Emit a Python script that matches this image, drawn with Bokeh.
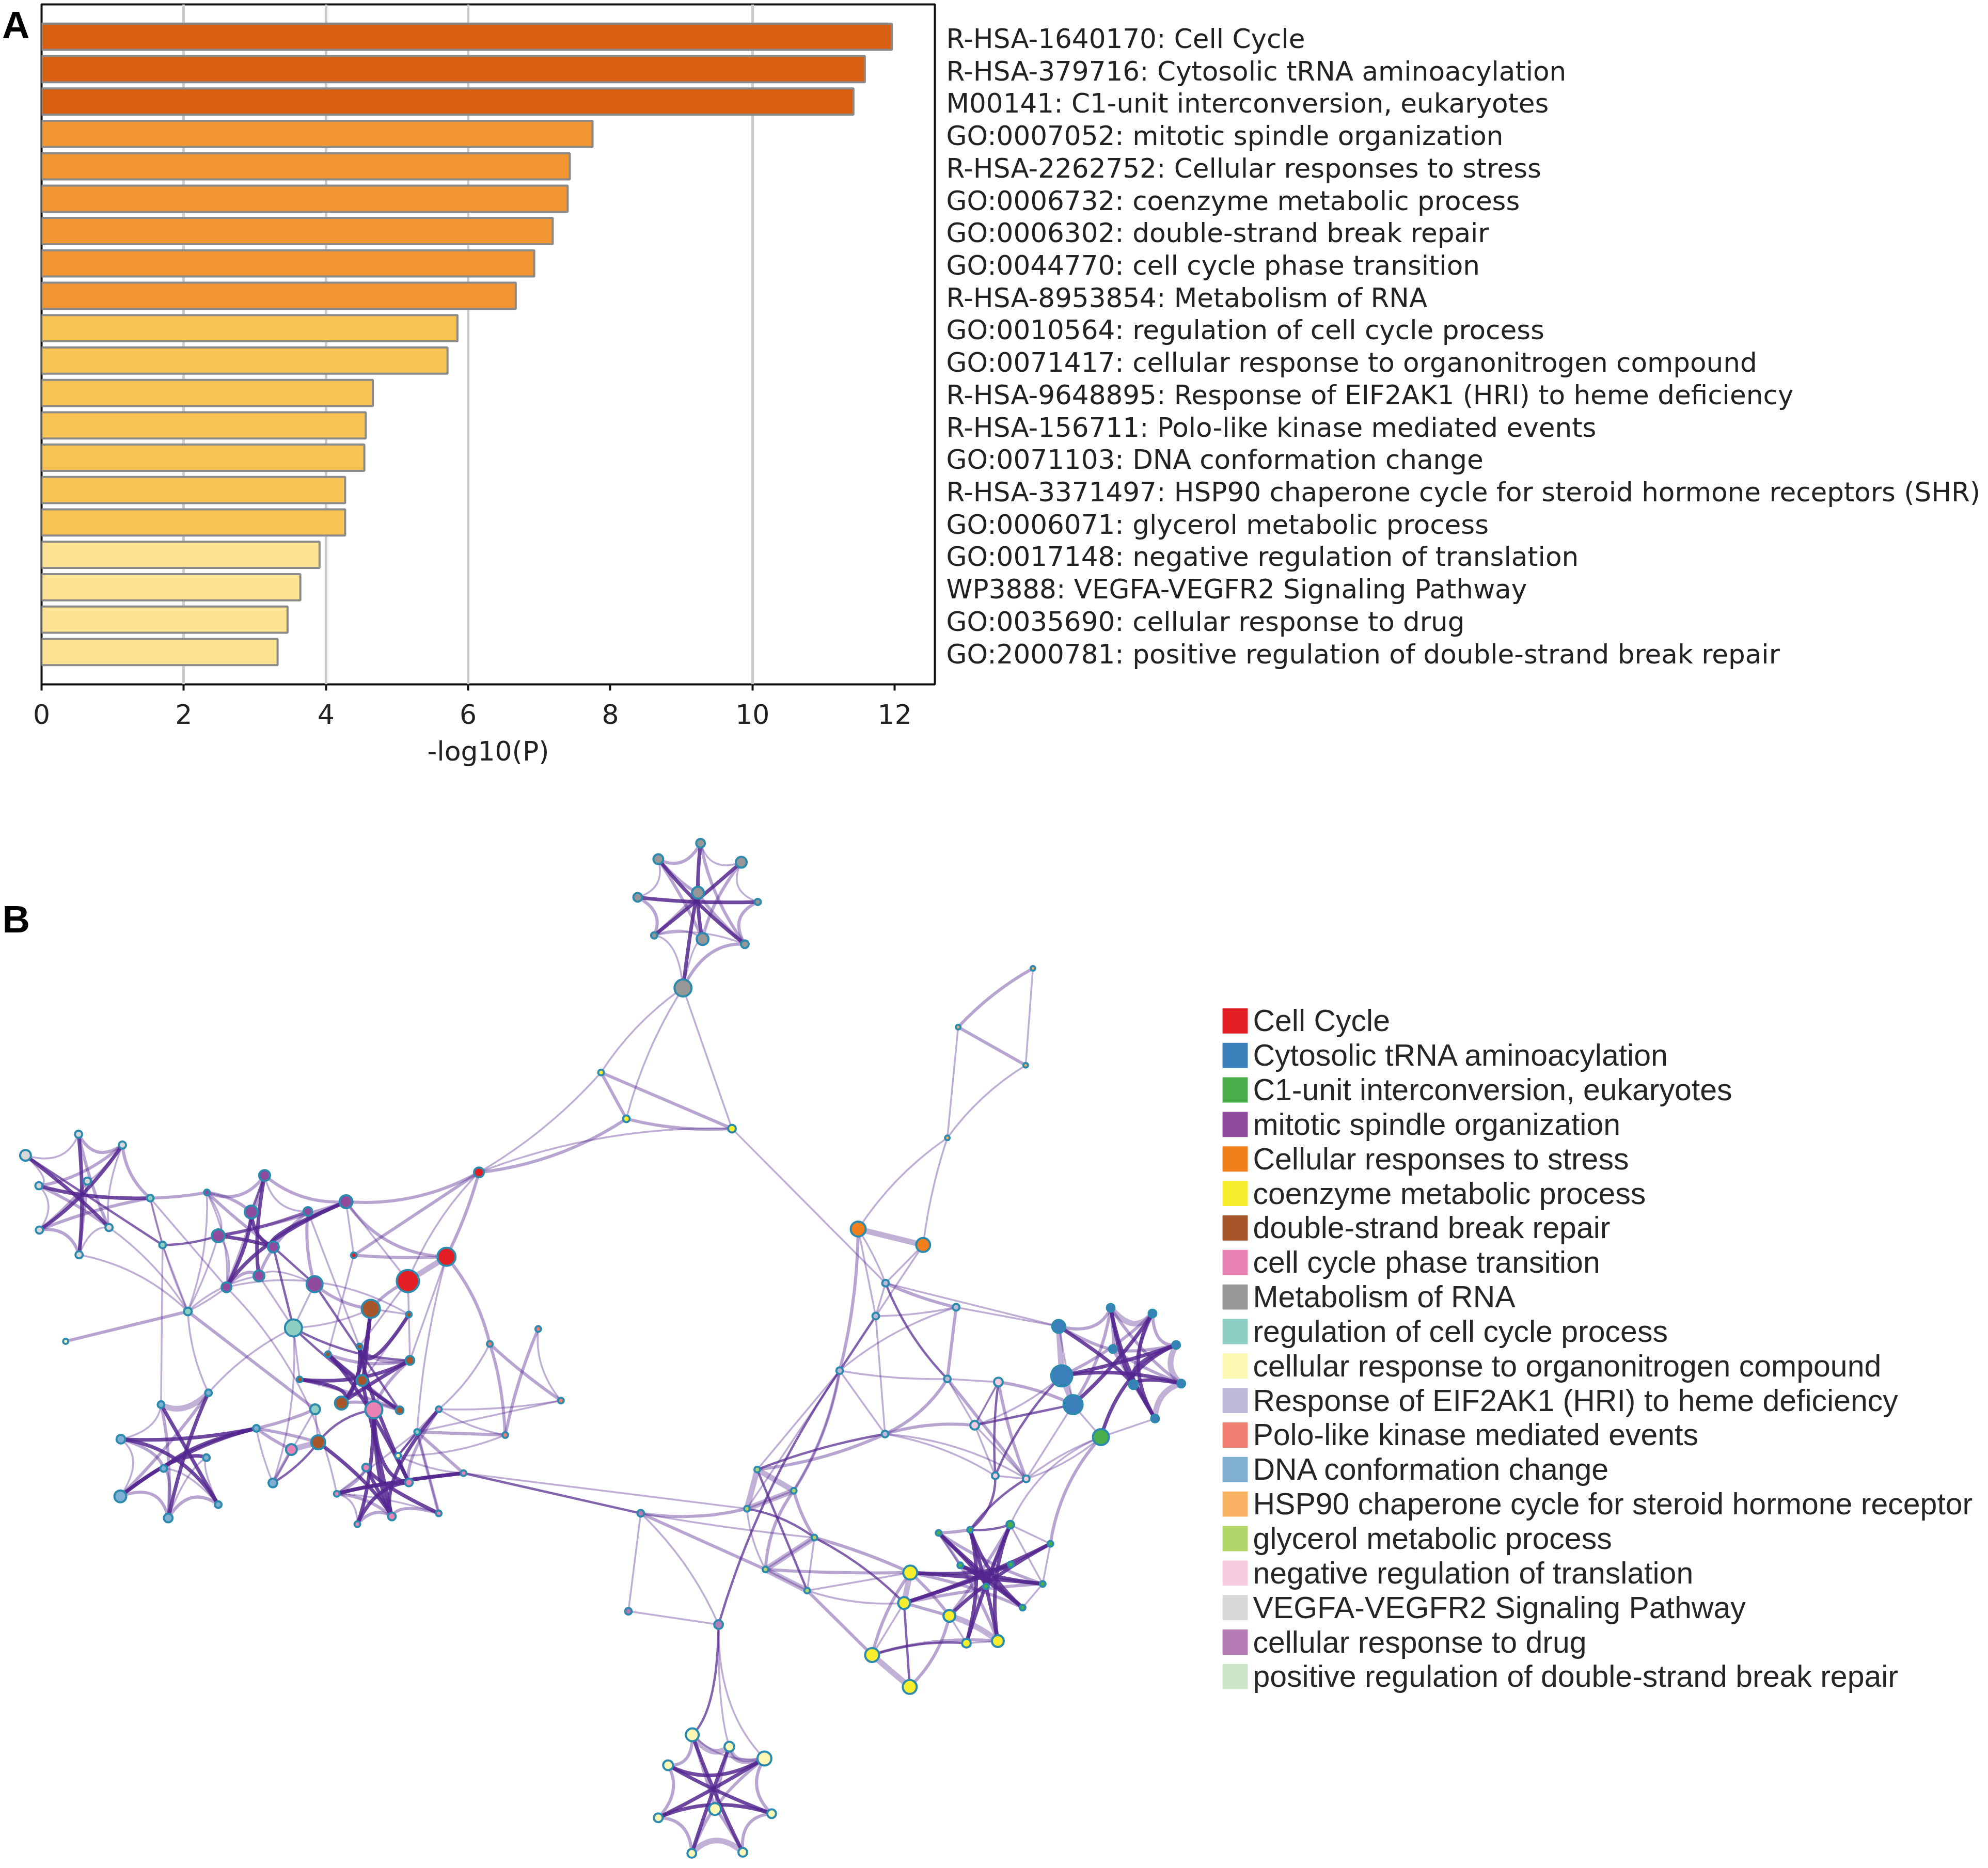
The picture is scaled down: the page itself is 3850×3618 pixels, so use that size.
from bokeh.plotting import figure
from bokeh.embed import file_html
from bokeh.resources import INLINE
from bokeh.models import Range1d, FixedTicker, LinearAxis
from bokeh.core.properties import value

# ---------- Panel A data ----------
terms = [
    "R-HSA-1640170: Cell Cycle",
    "R-HSA-379716: Cytosolic tRNA aminoacylation",
    "M00141: C1-unit interconversion, eukaryotes",
    "GO:0007052: mitotic spindle organization",
    "R-HSA-2262752: Cellular responses to stress",
    "GO:0006732: coenzyme metabolic process",
    "GO:0006302: double-strand break repair",
    "GO:0044770: cell cycle phase transition",
    "R-HSA-8953854: Metabolism of RNA",
    "GO:0010564: regulation of cell cycle process",
    "GO:0071417: cellular response to organonitrogen compound",
    "R-HSA-9648895: Response of EIF2AK1 (HRI) to heme deficiency",
    "R-HSA-156711: Polo-like kinase mediated events",
    "GO:0071103: DNA conformation change",
    "R-HSA-3371497: HSP90 chaperone cycle for steroid hormone receptors (SHR)",
    "GO:0006071: glycerol metabolic process",
    "GO:0017148: negative regulation of translation",
    "WP3888: VEGFA-VEGFR2 Signaling Pathway",
    "GO:0035690: cellular response to drug",
    "GO:2000781: positive regulation of double-strand break repair",
]
log_p = [11.96, 11.58, 11.42, 7.75, 7.43, 7.40, 7.19, 6.93, 6.67, 5.85,
         5.71, 4.66, 4.56, 4.54, 4.27, 4.27, 3.91, 3.64, 3.46, 3.32]
bar_colors = ["#D95F13"] * 3 + ["#F29533"] * 6 + ["#F9C454"] * 7 + ["#FDE291"] * 4
x_ticks = [0, 2, 4, 6, 8, 10, 12]
grid_ticks = [2, 4, 6, 10]
rank = list(range(len(terms)))

# ---------- Panel B data ----------
legend_names = [
    "Cell Cycle", "Cytosolic tRNA aminoacylation", "C1-unit interconversion, eukaryotes",
    "mitotic spindle organization", "Cellular responses to stress", "coenzyme metabolic process",
    "double-strand break repair", "cell cycle phase transition", "Metabolism of RNA",
    "regulation of cell cycle process", "cellular response to organonitrogen compound",
    "Response of EIF2AK1 (HRI) to heme deficiency", "Polo-like kinase mediated events",
    "DNA conformation change", "HSP90 chaperone cycle for steroid hormone receptor",
    "glycerol metabolic process", "negative regulation of translation",
    "VEGFA-VEGFR2 Signaling Pathway", "cellular response to drug",
    "positive regulation of double-strand break repair",
]
legend_colors = ["#E31E24", "#3A7FBA", "#4AAE4A", "#904A9E", "#F17F1C", "#F8EE2E", "#A6562A",
                 "#EA83B5", "#979797", "#8DCFC3", "#FDF7B4", "#BDB9DA", "#F07F72", "#7FB0D4",
                 "#F9B163", "#B2D56A", "#F6CBE0", "#D8D8D8", "#B57CB5", "#CBE6C8"]
legend_x = [2396.5] * 20
legend_y = [1981 + 67 * i for i in range(20)]

cluster_cat = dict(V=17, R=9, N=10, M=3, C=0, B=6, P=7, L=12, D=13, G=8, T=5, H=14, O=4,
                   I=11, E=16, A=1, X=2, Z=2, Q=5, K=15, U=18, W=10)
nodes = {
    "V0": (152, 2201, 17), "V1": (237, 2222, 17), "V2": (49, 2242, 24), "V3": (75, 2301, 17),
    "V4": (169, 2292, 17), "V5": (76, 2387, 17), "V6": (211, 2382, 17), "V7": (153, 2435, 17),
    "R0": (291, 2325, 16), "R1": (315, 2416, 16), "R2": (364, 2545, 18), "R3": (569, 2577, 36),
    "R4": (611, 2735, 22), "R5": (809, 2779, 14),
    "N0": (127, 2603, 13), "N1": (772, 2825, 14),
    "M0": (401, 2314, 14), "M1": (513, 2281, 24), "M2": (487, 2352, 28), "M3": (597, 2351, 20),
    "M4": (671, 2332, 28), "M5": (423, 2398, 28), "M6": (530, 2420, 24), "M7": (502, 2476, 24),
    "M8": (439, 2498, 22), "M9": (610, 2492, 34),
    "C0": (929, 2275, 22), "C1": (686, 2436, 14), "C2": (866, 2439, 38), "C3": (791, 2486, 46),
    "B0": (719, 2540, 38), "B1": (793, 2551, 14), "B2": (697, 2613, 14), "B3": (636, 2628, 14),
    "B4": (795, 2640, 20), "B5": (581, 2677, 14), "B6": (702, 2679, 24), "B7": (662, 2723, 28),
    "B8": (775, 2737, 18), "B9": (617, 2799, 30),
    "P0": (725, 2736, 36), "P1": (565, 2813, 24), "P2": (710, 2848, 18), "P3": (793, 2877, 18),
    "P4": (653, 2899, 14), "P5": (760, 2943, 18), "P6": (693, 2958, 14), "P7": (851, 2937, 14),
    "P8": (899, 2859, 14), "P9": (851, 2735, 14),
    "L0": (1044, 2579, 14), "L1": (950, 2608, 14), "L2": (1088, 2718, 14), "L3": (980, 2785, 14),
    "D0": (404, 2703, 16), "D1": (312, 2726, 16), "D2": (497, 2772, 16), "D3": (234, 2793, 20),
    "D4": (400, 2829, 16), "D5": (317, 2850, 16), "D6": (529, 2878, 20), "D7": (233, 2904, 26),
    "D8": (423, 2920, 16), "D9": (326, 2946, 20),
    "G0": (1359, 1636, 20), "G1": (1277, 1667, 22), "G2": (1438, 1673, 24), "G3": (1237, 1741, 20),
    "G4": (1354, 1732, 26), "G5": (1470, 1750, 15), "G6": (1269, 1815, 15), "G7": (1363, 1822, 26),
    "G8": (1445, 1832, 18), "G9": (1325, 1917, 36),
    "T0": (1166, 2081, 14), "T1": (1215, 2171, 16), "T2": (1420, 2190, 18),
    "H0": (2004, 1879, 12), "H1": (1859, 1993, 12), "H2": (1990, 2067, 12), "H3": (1838, 2208, 12),
    "O0": (1665, 2385, 32), "O1": (1791, 2416, 30),
    "I0": (1718, 2490, 16), "I1": (1699, 2554, 16), "I2": (1855, 2537, 16), "I3": (1629, 2660, 16),
    "I4": (1838, 2676, 16), "I5": (1717, 2783, 16),
    "E0": (1937, 2682, 20), "E1": (1891, 2766, 20), "E2": (1931, 2864, 16), "E3": (1991, 2870, 16),
    "A0": (2054, 2574, 28), "A1": (2060, 2670, 44), "A2": (2082, 2726, 40), "A3": (2155, 2538, 18),
    "A4": (2236, 2549, 18), "A5": (2159, 2618, 18), "A6": (2282, 2610, 18), "A7": (2292, 2685, 18),
    "A8": (2199, 2687, 20), "A9": (2241, 2753, 18),
    "X0": (2136, 2789, 34),
    "Z0": (1821, 2975, 14), "Z1": (1882, 2969, 14), "Z2": (1960, 2959, 18), "Z3": (2038, 2996, 14),
    "Z4": (1863, 3038, 14), "Z5": (1961, 3036, 14), "Z6": (2023, 3074, 14), "Z7": (1913, 3079, 14),
    "Z8": (1984, 3120, 14),
    "Q0": (1766, 3052, 30), "Q1": (1754, 3111, 26), "Q2": (1842, 3136, 26), "Q3": (1875, 3189, 20),
    "Q4": (1936, 3185, 26), "Q5": (1692, 3212, 30), "Q6": (1765, 3274, 30),
    "K0": (1469, 2852, 14), "K1": (1540, 2893, 14), "K2": (1449, 2928, 14), "K3": (1580, 2984, 14),
    "K4": (1485, 3046, 14), "K5": (1566, 3087, 14),
    "U0": (1243, 2937, 16), "U1": (1219, 3127, 16), "U2": (1394, 3153, 20),
    "W0": (1343, 3367, 28), "W1": (1415, 3390, 22), "W2": (1483, 3413, 30), "W3": (1296, 3426, 22),
    "W4": (1387, 3511, 26), "W5": (1497, 3520, 20), "W6": (1277, 3528, 20), "W7": (1342, 3597, 20),
    "W8": (1441, 3595, 20),
}

edge_groups = [
    (166, 2330, "V0-V7:3 V1-V5:3 V2-V6:3 V3-R0:3 V4-V7:2 V0-V6:2 V3-V6:2 V5-R0:2 V4-V5:2 V0-V1:2 V1-V4:1 V2-V0:1 V2-V3:1 V3-V5:1 V5-V7:2 V7-V6:1 V6-V1:1 V3-V1:2"),
    (489, 2406, "M1-M7:3 M5-M6:3 M2-M8:3 M4-M8:3 M2-M6:3 M3-M7:2 M0-M6:2 M5-M3:2 M1-M8:2 M4-M5:2 M3-M5:2 M5-M8:1 M0-M8:1 M0-M1:2 M0-M5:1 M1-M3:1 M7-M9:1 M7-M8:2 M6-M4:3"),
    (705, 2693, "B0-B7:3 B0-B6:3 B1-B2:3 B5-B4:3 B3-B8:3 B2-B7:3 B3-B6:2 B4-B7:3 B6-B8:2 B5-B8:2 B2-B4:2 B1-B6:1 B3-B4:2 B0-B2:3 B7-B8:2 B3-P3:3 B2-P3:3 B6-P5:3 B4-P0:2 B5-B7:3"),
    (725, 2878, "P0-P6:3 P2-P5:3 P3-P6:3 P4-P3:3 P8-P3:3 P2-P7:3 P9-P5:3 P4-P5:2 P6-P5:2 P7-P5:2 P4-P8:3 P4-P6:1 P2-P4:2 P0-P3:3 P9-P3:2 B9-P5:3 P0-P5:3 P4-P7:1"),
    (356, 2802, "D1-D8:3 D0-D9:3 D3-D2:3 D3-D8:3 D7-D4:3 D7-D0:2 D1-D9:2 D5-D3:2 D5-D8:1 D5-D2:3 D4-D9:1 D1-D0:4 D1-D3:1 D3-D7:1 D7-D9:2 D9-D8:2 D4-D8:1 D5-D9:2 D7-D2:3"),
    (1345, 1755, "G0-G7:3 G1-G8:3 G2-G6:3 G3-G5:3 G4-G9:3 G1-G7:2 G4-G8:2 G4-G6:2 G0-G8:2 G2-G7:2 G4-G1:2 G7-G6:1 G0-G1:2 G0-G2:1 G2-G5:1 G5-G8:2 G3-G6:2 G3-G1:1 G6-G8:1 G8-G9:2 G6-G9:1 G7-G9:1"),
    (2172, 2649, "A0-A8:3 A1-A6:3 A2-A4:3 A3-A9:3 A5-A7:2 A5-A9:2 X0-A6:3 A1-A4:2 A2-A3:2 A3-A8:3 A1-A7:3 A4-A9:3 A8-A6:3 A4-A8:2 A5-A6:2 A0-A3:2 A0-A5:2 A3-A5:2"),
    (2209, 2668, "A3-A4:4 A4-A6:2 A6-A7:4 A7-A9:4 A8-A9:2 A8-A7:3 A3-A7:2"),
    (1913, 3062, "Z0-Z8:3 Z1-Z8:3 Z2-Q4:3 Z3-Q1:3 Q0-Z6:3 Z1-Q4:3 Q3-Z2:3 Q2-Z3:3 Z0-Q4:2 Z4-Z8:3 Z4-Z6:3 Q0-Z5:3 Z1-Q3:3 Z0-Z6:2 Z2-Z7:2 Z5-Q1:3 Z0-Z7:3 Z8-Q0:2 Q2-Z2:2 Q1-Z6:2"),
    (1381, 3477, "W0-W8:3 W1-W7:3 W3-W5:3 W6-W2:3 W4-W0:2 W4-W1:2 W4-W7:2 W4-W8:2 W3-W2:3 W6-W5:3 W2-W4:2 W1-W2:1 W0-W2:1 W0-W1:4 W1-W2:4 W0-W3:2 W3-W6:2 W6-W7:2 W7-W8:4 W8-W5:2 W5-W2:2"),
    (990, 2661, "L1-L2:2 L0-L3:2 L1-L3:2 L0-L2:1"),
]
# edges that leave a shared stem: (from, to, weight, control x, control y)
fan_edges = [("U2", "W0", 5, 1392, 3320), ("U2", "W1", 1, 1392, 3320), ("U2", "W2", 1, 1392, 3320)]
free_edges = (
    "V7-R2:1:-0.15 V6-R2:1:-0.1 R0-R1:1:0 R0-M0:2:0.04 R0-R2:1:0.05 R1-R2:1:0 R1-M5:3:0.08 R1-D1:1:0 N0-R2:2:0 "
    "V1-R0:2:0.2 V2-R1:3:0 R2-R4:2:0 R2-M5:1:0.05 R2-M8:1:0.05 R2-M0:1:0.1 R2-M7:1:-0.15 R0-M8:1:0 M0-M2:2:-0.15 "
    "M1-M2:3:0 M1-M4:2:0.2 M4-C0:2:0.15 M6-M9:3:0 M9-B0:2:0.15 M3-M9:2:0.1 M9-B8:3:0 R3-M6:3:0 R3-M7:1:0 M9-R3:1:0 R3-B0:1:0.1 "
    "R3-B4:3:0.12 R3-B8:3:0.05 R3-B5:1:0 R3-D6:1:-0.1 M3-B2:1:0 M4-C1:1:0 M4-C2:2:0.25 M4-C3:1:0 M8-B1:1:-0.2 M8-P4:1:-0.15 "
    "C0-T1:2:0.12 C0-T0:1:0.08 C0-T2:1:-0.1 C0-C1:2:0 C0-C2:2:-0.05 C0-C3:1:0.1 C1-C2:2:0.03 C3-C2:4:0 C3-B0:2:0.1 C2-L1:2:-0.12 "
    "C2-R5:1:0.05 C2-B4:1:0 C1-B3:1:0 B0-B1:1:0 B1-C3:1:0 B1-B4:1:0 C3-B2:1:0 "
    "B9-P1:4:0 D6-B9:3:0.1 D2-B9:2:-0.03 D2-P1:2:0.05 D2-D6:1:0.05 D0-R2:1:-0.1 D6-R4:1:0 D2-R4:2:0.05 D0-R3:1:-0.1 B9-P0:3:-0.2 B9-R4:1:0 "
    "P1-D6:2:0 P8-U0:3:0 P9-L2:1:0.05 P9-L3:1:0.1 P9-L1:1:0.1 P9-R5:2:0 R5-L3:2:0 R5-P8:2:0 R5-P7:2:0 R5-L2:1:0 N1-R5:1:0 N1-P8:1:0.1 N1-L3:1:0.1 R5-P4:1:0 R5-N1:3:0 "
    "P7-R5:1:0 P8-K2:1:0 U0-K2:2:0.1 U0-K3:1:0.02 U0-K4:2:0 U0-U2:1:-0.1 U0-U1:1:0 U1-U2:1:0 U2-I3:3:-0.08 "
    "K0-K5:3:0 K0-K1:4:0 K0-K2:4:0 K1-K2:4:0 K3-K4:4:0 K4-K5:4:0 K2-K3:3:-0.12 K4-K2:1:-0.1 K4-K1:2:-0.15 K1-K3:2:0.08 K3-K5:1:0 K2-K1:1:0 "
    "K0-I5:2:0.08 K1-I3:1:0.1 K2-I3:1:0 K5-Q5:2:0 K4-K3:1:0 K3-Q0:2:-0.04 K3-Q1:3:-0.08 K5-Q1:1:0.1 K4-Q0:2:0.02 K4-K5:1:0 K5-Q0:1:0 "
    "G9-T0:1:0.1 G9-T1:1:0.08 G9-T2:1:0 T0-T1:2:0 T0-T2:2:0 T1-T2:2:0.08 T2-I0:1:0 "
    "H0-H1:2:0.08 H0-H2:1:0 H1-H2:2:0 H1-H3:1:0 H2-H3:1:0.1 H3-O0:1:0.1 H3-O1:1:0.05 O0-O1:4:0 "
    "O0-I0:1:-0.05 O0-I1:1:0 O0-I3:2:-0.06 O1-I0:1:0 O1-I1:1:0 "
    "I0-I1:1:0 I0-I2:2:0.05 I0-I4:3:0.1 I0-A0:1:0 I2-A0:1:0 I1-I2:1:0.05 I1-I5:1:0 I1-I3:3:0 I2-I3:1:0.1 I3-I4:1:0.05 I3-I5:1:0 "
    "I3-K1:2:-0.1 I3-K0:1:0 I5-K0:3:0.05 I5-E1:2:-0.1 I5-E3:1:-0.12 I5-E2:1:-0.1 I5-I4:2:0.15 I2-I4:2:0 I4-E0:1:0 I4-E1:1:0 I4-E3:2:0 "
    "E0-E2:3:0.05 E0-E3:2:0.05 E1-E2:1:0 E1-E3:1:0 E1-E0:1:0 E2-E3:1:0 E0-E1:1:0 E1-A2:3:0 E0-A2:2:-0.08 E1-A1:1:0.1 "
    "A0-A1:4:0 A0-A2:1:0 A1-A2:4:0 E2-A1:3:-0.1 E3-A2:1:0 E3-X0:1:0.1 E2-Z1:3:-0.25 E3-Z1:3:0.1 X0-E3:1:0.08 X0-Z3:2:0.15 X0-Z2:1:0.2 X0-A9:1:0 X0-A2:1:0 A9-A8:1:0 "
    "Z0-Z1:2:0.03 Z1-Z2:3:0.1 Z2-Z3:1:0 Z3-Z6:1:0 Z6-Z8:1:0 Z2-Z6:1:0 Z0-Z4:1:0 "
    "Q0-Q1:4:0 Q1-Q6:3:0 Q5-Q6:4:0 Q5-Q3:3:-0.1 Q5-Q4:2:-0.1 Q3-Q4:1:0 Q2-Q4:4:-0.1 Q2-Q3:1:0 Q1-Q2:2:0 Q0-Q2:2:-0.05 Q5-Q0:2:-0.1 Q6-Q2:2:0.15 Q5-Q1:1:0"
)

# ---------- Panel A ----------
font = "DejaVu Sans"
A = figure(width=3842, height=1500, output_backend="svg", toolbar_location=None,
           x_range=Range1d(0, 12.565), y_axis_location=None, y_range=Range1d(20, -1),
           min_border_left=80, min_border_top=8, min_border_right=2032, min_border_bottom=175)
A.hbar(y=rank, left=0, right=log_p, height=0.81, fill_color=bar_colors,
       line_color="#8A8A8A", line_width=4)
A.xgrid.ticker = FixedTicker(ticks=grid_ticks)
A.xgrid.grid_line_color = "#CCCCCC"
A.xgrid.grid_line_width = 5
A.ygrid.visible = False
A.outline_line_color = "#111111"
A.outline_line_width = 4
A.outline_line_alpha = 1
xa = A.xaxis[0]
xa.ticker = FixedTicker(ticks=x_ticks)
xa.axis_line_color = None
xa.major_tick_line_color = "#111111"
xa.major_tick_line_width = 4
xa.major_tick_in = 0
xa.major_tick_out = 12
xa.minor_tick_line_color = None
xa.major_label_text_font = font
xa.major_label_text_font_size = "52px"
xa.major_label_text_color = "#222222"
xa.major_label_standoff = 26
xa.axis_label = "-log10(P)"
xa.axis_label_text_font = font
xa.axis_label_text_font_size = "52px"
xa.axis_label_text_font_style = "normal"
xa.axis_label_text_color = "#222222"
xa.axis_label_standoff = 20

term_ticks = [r + 0.06 for r in rank]
term_axis = LinearAxis(ticker=FixedTicker(ticks=term_ticks),
                       major_label_overrides=dict(zip(term_ticks, terms)))
term_axis.axis_line_color = None
term_axis.major_tick_line_color = None
term_axis.minor_tick_line_color = None
term_axis.major_label_standoff = 16
term_axis.major_label_text_font = font
term_axis.major_label_text_font_size = "51.6px"
term_axis.major_label_text_color = "#222222"
A.add_layout(term_axis, "right")

letter_axis = LinearAxis(ticker=FixedTicker(ticks=[-0.57]), major_label_overrides={-0.57: "A"})
letter_axis.axis_line_color = None
letter_axis.major_tick_line_color = None
letter_axis.minor_tick_line_color = None
letter_axis.major_label_standoff = 17
letter_axis.major_label_text_font = "Liberation Sans"
letter_axis.major_label_text_font_style = "bold"
letter_axis.major_label_text_font_size = "74px"
letter_axis.major_label_text_color = "#000000"
A.add_layout(letter_axis, "left")

# ---------- Panel B ----------
B = figure(width=3842, height=2110, output_backend="svg", toolbar_location=None,
           x_range=Range1d(0, 3850), y_range=Range1d(3618, 1503),
           min_border_left=0, min_border_right=0, min_border_top=0, min_border_bottom=0)
B.axis.visible = False
B.grid.visible = False
B.outline_line_color = None

STYLE = {1: (3.5, 0.38), 2: (6, 0.42), 3: (7, 0.85), 4: (11, 0.36), 5: (4.5, 0.72)}
ed = {k: dict(x0=[], y0=[], x1=[], y1=[], cx=[], cy=[]) for k in STYLE}


def add_edge(w, a, b, cx, cy):
    d = ed[w]
    d["x0"].append(a[0]); d["y0"].append(a[1])
    d["x1"].append(b[0]); d["y1"].append(b[1])
    d["cx"].append(cx); d["cy"].append(cy)


for hx, hy, spec in edge_groups:
    for item in spec.split():
        pair, w = item.split(":")
        a, b = (nodes[n] for n in pair.split("-"))
        w = int(w)
        mx, my = (a[0] + b[0]) / 2, (a[1] + b[1]) / 2
        pull = 0.9 if w == 3 else 0.4
        add_edge(w, a, b, mx + pull * (hx - mx), my + pull * (hy - my))

for na, nb, w, cx, cy in fan_edges:
    add_edge(w, nodes[na], nodes[nb], cx, cy)

for item in free_edges.split():
    pair, w, bow = item.split(":")
    w, bow = int(w), float(bow)
    w = 5 if w == 3 else w
    a, b = (nodes[n] for n in pair.split("-"))
    mx, my = (a[0] + b[0]) / 2, (a[1] + b[1]) / 2
    add_edge(w, a, b, mx - bow * (b[1] - a[1]), my + bow * (b[0] - a[0]))

for w in (1, 2, 4, 5, 3):
    lw, la = STYLE[w]
    B.quadratic(x0=ed[w]["x0"], y0=ed[w]["y0"], x1=ed[w]["x1"], y1=ed[w]["y1"],
                cx=ed[w]["cx"], cy=ed[w]["cy"], line_color="#54278F", line_width=lw, line_alpha=la)

node_x = [v[0] for v in nodes.values()]
node_y = [v[1] for v in nodes.values()]
node_size = [v[2] - 3 for v in nodes.values()]
node_fill = [legend_colors[cluster_cat[k[0]]] for k in nodes]
B.scatter(node_x, node_y, size=node_size, fill_color=node_fill,
          line_color="#2C8AAE", line_width=4)

B.rect(legend_x, legend_y, width=49, height=49, fill_color=legend_colors, line_color=None)
B.text([2431] * 20, legend_y, text=legend_names, text_font=value("Liberation Sans"),
       text_font_size="59px", text_baseline="middle", text_align="left", text_color="#262626")
B.text([4], [1784], text=["B"], text_font=value("Liberation Sans"), text_font_style="bold",
       text_font_size="74px", text_baseline="alphabetic", text_color="#000000")

open("out.html", "w").write(file_html((A, B), INLINE))
